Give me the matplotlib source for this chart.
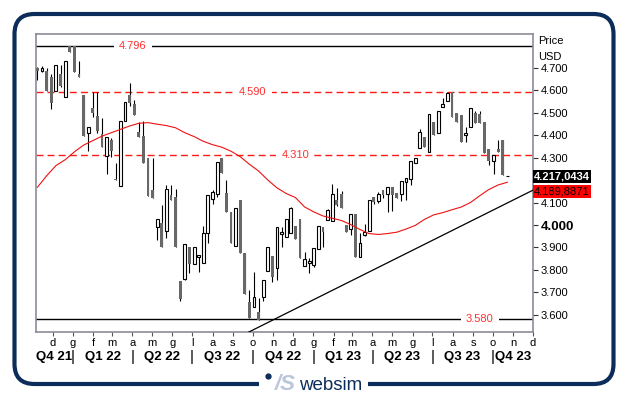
import numpy as np
import pandas as pd
import matplotlib
matplotlib.use('Agg')
import matplotlib.pyplot as plt
import matplotlib.dates as mdates
from matplotlib.patches import FancyBboxPatch, Rectangle
from matplotlib.transforms import blended_transform_factory

plt.rcParams['font.family'] = ['Liberation Sans', 'DejaVu Sans']

# weekly candles
dates = pd.date_range('2021-11-08', periods=103, freq='7D')
opens = [4.700, 4.685, 4.683, 4.656, 4.594, 4.671, 4.567, 4.797, 4.797, 4.671,
         4.577, 4.410, 4.520, 4.486, 4.404, 4.305, 4.377, 4.205, 4.172, 4.461,
         4.577, 4.540, 4.414, 4.395, 4.296, 4.155, 3.990, 4.007, 3.975, 4.133,
         4.123, 3.751, 3.760, 3.900, 3.828, 3.857, 3.830, 3.966, 4.115, 4.138,
         4.296, 4.141, 4.060, 3.908, 4.111, 3.874, 3.656, 3.637, 3.615, 3.679,
         3.797, 3.862, 3.807, 3.958, 3.948, 3.963, 3.997, 4.025, 3.818, 3.833,
         3.822, 3.893, 3.993, 4.022, 4.019, 4.111, 4.138, 4.000, 3.981, 4.049,
         3.856, 3.955, 3.974, 4.126, 4.108, 4.155, 4.137, 4.168, 4.141, 4.137,
         4.193, 4.205, 4.274, 4.341, 4.390, 4.326, 4.459, 4.410, 4.523, 4.553,
         4.589, 4.496, 4.489, 4.398, 4.434, 4.500, 4.492, 4.459, 4.338, 4.286,
         4.338, 4.378, 4.217]
highs = [4.702, 4.705, 4.700, 4.670, 4.712, 4.712, 4.727, 4.797, 4.797, 4.727,
         4.577, 4.435, 4.590, 4.590, 4.474, 4.389, 4.386, 4.276, 4.464, 4.545,
         4.633, 4.556, 4.459, 4.464, 4.296, 4.300, 4.025, 4.088, 4.177, 4.177,
         4.162, 3.751, 3.914, 3.900, 3.903, 3.866, 3.997, 4.133, 4.155, 4.282,
         4.300, 4.200, 4.060, 4.074, 4.111, 3.874, 3.711, 3.793, 3.674, 3.756,
         3.900, 3.862, 3.993, 3.993, 4.025, 4.078, 3.997, 4.025, 3.881, 3.852,
         3.896, 3.997, 3.993, 4.070, 4.182, 4.163, 4.153, 4.000, 4.047, 4.049,
         3.966, 4.004, 4.111, 4.126, 4.148, 4.155, 4.171, 4.168, 4.141, 4.196,
         4.208, 4.283, 4.300, 4.426, 4.390, 4.493, 4.459, 4.508, 4.563, 4.590,
         4.589, 4.496, 4.489, 4.437, 4.518, 4.506, 4.506, 4.459, 4.338, 4.310,
         4.378, 4.378, 4.217]
lows = [4.646, 4.680, 4.595, 4.515, 4.594, 4.615, 4.567, 4.767, 4.679, 4.658,
        4.396, 4.330, 4.478, 4.410, 4.348, 4.227, 4.303, 4.200, 4.172, 4.461,
        4.530, 4.489, 4.392, 4.274, 4.130, 4.121, 3.933, 3.900, 3.941, 4.111,
        3.900, 3.662, 3.755, 3.785, 3.828, 3.789, 3.830, 3.921, 4.093, 4.123,
        4.230, 4.057, 3.921, 3.908, 3.874, 3.693, 3.585, 3.637, 3.578, 3.664,
        3.797, 3.748, 3.756, 3.900, 3.948, 3.963, 3.936, 3.852, 3.818, 3.785,
        3.815, 3.893, 3.900, 4.022, 4.019, 4.085, 4.077, 3.970, 3.955, 3.859,
        3.856, 3.950, 3.974, 4.095, 4.097, 4.120, 4.056, 4.062, 4.119, 4.108,
        4.111, 4.177, 4.274, 4.341, 4.348, 4.326, 4.400, 4.410, 4.523, 4.553,
        4.478, 4.459, 4.370, 4.370, 4.434, 4.452, 4.452, 4.318, 4.267, 4.227,
        4.326, 4.222, 4.217]
closes = [4.683, 4.700, 4.595, 4.542, 4.712, 4.620, 4.727, 4.767, 4.679, 4.660,
          4.396, 4.434, 4.498, 4.419, 4.348, 4.389, 4.327, 4.200, 4.464, 4.545,
          4.542, 4.489, 4.392, 4.274, 4.130, 4.121, 4.025, 3.900, 4.158, 4.111,
          3.900, 3.671, 3.914, 3.825, 3.903, 3.866, 3.963, 4.133, 4.145, 4.282,
          4.230, 4.057, 3.921, 4.074, 3.874, 3.693, 3.585, 3.681, 3.578, 3.756,
          3.900, 3.770, 3.993, 3.967, 4.025, 4.074, 3.936, 3.852, 3.847, 3.840,
          3.896, 3.997, 3.970, 4.068, 4.138, 4.089, 4.077, 3.970, 4.047, 3.859,
          3.922, 3.970, 4.111, 4.104, 4.136, 4.134, 4.171, 4.134, 4.119, 4.196,
          4.208, 4.283, 4.300, 4.412, 4.348, 4.493, 4.400, 4.508, 4.537, 4.585,
          4.478, 4.459, 4.370, 4.407, 4.518, 4.452, 4.452, 4.318, 4.286, 4.310,
          4.326, 4.222, 4.217]

# moving average, read every second week
ma_vals = [4.168, 4.219, 4.264, 4.290, 4.325, 4.355, 4.375, 4.395, 4.410, 4.425,
           4.440, 4.452, 4.455, 4.448, 4.442, 4.432, 4.410, 4.393, 4.372, 4.357,
           4.346, 4.328, 4.304, 4.270, 4.240, 4.200, 4.165, 4.140, 4.122, 4.080,
           4.058, 4.040, 4.030, 4.020, 4.002, 3.980, 3.962, 3.958, 3.962, 3.968,
           3.982, 3.998, 4.025, 4.045, 4.055, 4.068, 4.080, 4.100, 4.130, 4.158,
           4.178, 4.190]
ma_dates = dates[::2]

trend_dates = ['2022-09-25', '2023-12-01']
trend_prices = [3.524, 4.155]

levels = [4.796, 4.590, 4.310, 3.580]
level_labels = ['4.796', '4.590', '4.310', '3.580']

last_close = '4.217,0434'
last_ma = '4.189,8871'
last_close_val = 4.2170434

# 4.200 is hidden behind the last-price box in the original
price_ticks = [3.6, 3.7, 3.8, 3.9, 4.0, 4.1, 4.3, 4.4, 4.5, 4.6, 4.7]
month_letters = ['d', 'g', 'f', 'm', 'a', 'm', 'g', 'l', 'a', 's', 'o', 'n', 'd',
                 'g', 'f', 'm', 'a', 'm', 'g', 'l', 'a', 's', 'o', 'n', 'd']
quarter_names = ['Q4 21', 'Q1 22', 'Q2 22', 'Q3 22', 'Q4 22',
                 'Q1 23', 'Q2 23', 'Q3 23', 'Q4 23']

W, H = 628, 399
fig = plt.figure(figsize=(W / 100, H / 100), dpi=100)

# background frame + logo
bg = fig.add_axes([0, 0, 1, 1])
bg.set_xlim(0, W)
bg.set_ylim(H, 0)
bg.axis('off')
navy = '#0c2d5a'
bg.add_patch(FancyBboxPatch((14.5, 14), 599, 370, boxstyle='round,pad=0,rounding_size=20',
                            fill=False, ec=navy, lw=3))
bg.add_patch(Rectangle((259, 376), 109, 14, fc='white', ec='none', zorder=3))
bg.plot(268, 376, 'o', ms=3.5, color=navy, zorder=4)
bg.text(285, 385, '/S', fontsize=16, fontstyle='italic', fontweight='bold',
        color='#bac6da', ha='center', va='center', zorder=4)
bg.text(331, 385, 'websim', fontsize=13.5, color=navy, ha='center', va='center', zorder=4)

# main chart
ax = fig.add_axes([35.5 / W, 1 - 332 / H, 497.5 / W, 298 / H])
x0 = pd.Timestamp('2021-11-05')
x1 = pd.Timestamp('2023-12-01')
ax.set_xlim(mdates.date2num(x0), mdates.date2num(x1))
ax.set_ylim(3.5244, 4.849)

x = mdates.date2num(dates)
o = np.array(opens)
hi = np.array(highs)
lo = np.array(lows)
c = np.array(closes)
up = c >= o

ax.vlines(x, lo, hi, color='black', lw=0.8, zorder=2)
ax.bar(x[up], c[up] - o[up], bottom=o[up], width=4.3, facecolor='white',
       edgecolor='black', lw=0.8, zorder=3)
ax.bar(x[~up], c[~up] - o[~up], bottom=o[~up], width=4.3, color='#686868',
       lw=0, zorder=3)

ax.plot(mdates.date2num(ma_dates), ma_vals, color='#ee1111', lw=0.8, zorder=4)
ax.plot(mdates.date2num(pd.to_datetime(trend_dates)), trend_prices, color='black',
        lw=0.9, zorder=4)

# horizontal levels
blend = blended_transform_factory(ax.transAxes, ax.transData)
styles = [('black', '-'), ('#ff1a1a', (0, (5, 3))), ('#ff1a1a', (0, (5, 3))), ('black', '-')]
label_pos = [0.196, 0.437, 0.522, 0.893]
for lv, lab, (col, ls), px in zip(levels, level_labels, styles, label_pos):
    ax.axhline(lv, color=col, ls=ls, lw=1.0, zorder=1)
    ax.text(px, lv, lab, transform=blend, color='#ff3030', fontsize=8,
            ha='center', va='center', zorder=5,
            bbox=dict(boxstyle='square,pad=0.45', fc='white', ec='none'))

# axes styling
for s in ax.spines.values():
    s.set_color('#8c8c9a')
    s.set_linewidth(1.2)
ax.yaxis.tick_right()
ax.set_yticks(price_ticks)
ax.set_yticklabels([f'{v:.3f}' for v in price_ticks])
ax.tick_params(axis='y', length=3.5, width=0.8, pad=2, labelsize=8, color='#333333')
for t in ax.get_yticklabels():
    if t.get_text() == '4.000':
        t.set_fontweight('bold')
        t.set_fontsize(9.5)

month_ticks = pd.date_range('2021-12-01', '2023-12-01', freq='MS')
ax.set_xticks(mdates.date2num(month_ticks))
ax.set_xticklabels(month_letters)
ax.tick_params(axis='x', length=3, width=0.8, pad=1.5, labelsize=8, color='#555555')

# quarter row
qblend = blended_transform_factory(ax.transData, ax.transAxes)
q_starts = list(pd.date_range('2022-01-01', '2023-10-01', freq='QS'))
bounds = [x0] + q_starts + [x1]
for name, a, b in zip(quarter_names, bounds[:-1], bounds[1:]):
    mid = a + (b - a) / 2
    ax.text(mdates.date2num(mid), -0.084, name, transform=qblend, fontsize=9.5,
            fontweight='bold', ha='center', va='center')
for qs in q_starts:
    ax.text(mdates.date2num(qs), -0.084, '|', transform=qblend, fontsize=11,
            ha='center', va='center')

# right side labels
fig.text(538 / W, 1 - 41 / H, 'Price', fontsize=8, ha='left', va='center')
fig.text(538 / W, 1 - 57 / H, 'USD', fontsize=8, ha='left', va='center')
ax.text(1.002, last_close_val, last_close, transform=blend, color='white',
        fontweight='bold', fontsize=8, ha='left', va='center', zorder=6,
        bbox=dict(boxstyle='square,pad=0.12', fc='black', ec='none'))
ax.annotate(last_ma, xy=(1.002, last_close_val), xycoords=blend,
            xytext=(0, -11), textcoords='offset points', color='black',
            fontsize=8, ha='left', va='center', zorder=6, annotation_clip=False,
            bbox=dict(boxstyle='square,pad=0.12', fc='#ff0000', ec='none'))

fig.savefig('out.png', dpi=100)
